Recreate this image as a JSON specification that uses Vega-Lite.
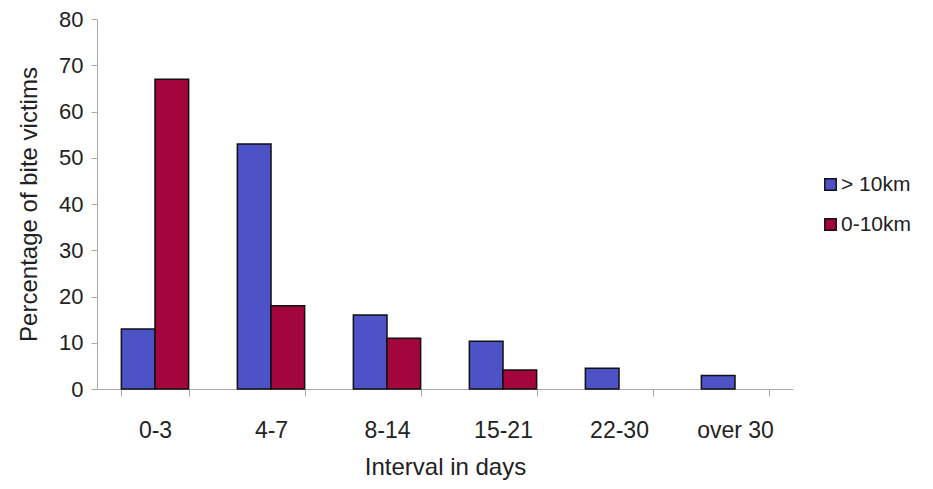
{
  "$schema": "https://vega.github.io/schema/vega-lite/v6.json",
  "width": 696,
  "height": 370,
  "autosize": "none",
  "padding": {"left": 97, "top": 19, "right": 140, "bottom": 100},
  "background": "white",
  "config": {
    "view": {"stroke": null},
    "font": "Liberation Sans"
  },
  "data": {
    "values": [
      {"interval": "0-3", "distance": "> 10km", "pct": 13},
      {"interval": "0-3", "distance": "0-10km", "pct": 67},
      {"interval": "4-7", "distance": "> 10km", "pct": 53},
      {"interval": "4-7", "distance": "0-10km", "pct": 18},
      {"interval": "8-14", "distance": "> 10km", "pct": 16},
      {"interval": "8-14", "distance": "0-10km", "pct": 11},
      {"interval": "15-21", "distance": "> 10km", "pct": 10.3},
      {"interval": "15-21", "distance": "0-10km", "pct": 4.1},
      {"interval": "22-30", "distance": "> 10km", "pct": 4.5},
      {"interval": "over 30", "distance": "> 10km", "pct": 2.9}
    ]
  },
  "mark": {"type": "bar", "stroke": "#111111", "strokeWidth": 1.5},
  "encoding": {
    "x": {
      "field": "interval",
      "type": "nominal",
      "sort": ["0-3", "4-7", "8-14", "15-21", "22-30", "over 30"],
      "scale": {"paddingInner": 0.42, "paddingOuter": 0.21},
      "axis": {
        "title": "Interval in days",
        "labelAngle": 0,
        "labelFontSize": 23,
        "labelColor": "#222",
        "labelPadding": 23,
        "tickBand": "extent",
        "tickSize": 7,
        "tickColor": "#aaa",
        "domainColor": "#aaa",
        "titleFontSize": 24,
        "titleFontWeight": "normal",
        "titleColor": "#222",
        "titlePadding": 13
      }
    },
    "xOffset": {
      "field": "distance",
      "type": "nominal",
      "sort": ["> 10km", "0-10km"]
    },
    "y": {
      "field": "pct",
      "type": "quantitative",
      "scale": {"domain": [0, 80]},
      "axis": {
        "title": "Percentage of bite victims",
        "values": [0, 10, 20, 30, 40, 50, 60, 70, 80],
        "grid": false,
        "labelFontSize": 22,
        "labelColor": "#222",
        "labelPadding": 8,
        "tickSize": 6,
        "tickColor": "#aaa",
        "domainColor": "#aaa",
        "titleFontSize": 24,
        "titleFontWeight": "normal",
        "titleColor": "#222",
        "titlePadding": 17
      }
    },
    "color": {
      "field": "distance",
      "type": "nominal",
      "sort": ["> 10km", "0-10km"],
      "scale": {"domain": ["> 10km", "0-10km"], "range": ["#4d52c6", "#a2063d"]},
      "legend": {
        "title": null,
        "orient": "none",
        "legendX": 723,
        "legendY": 155,
        "symbolType": "square",
        "symbolSize": 130,
        "symbolStrokeColor": "#111",
        "symbolStrokeWidth": 1.5,
        "labelFontSize": 21,
        "labelColor": "#222",
        "rowPadding": 18,
        "labelOffset": 0
      }
    }
  }
}
